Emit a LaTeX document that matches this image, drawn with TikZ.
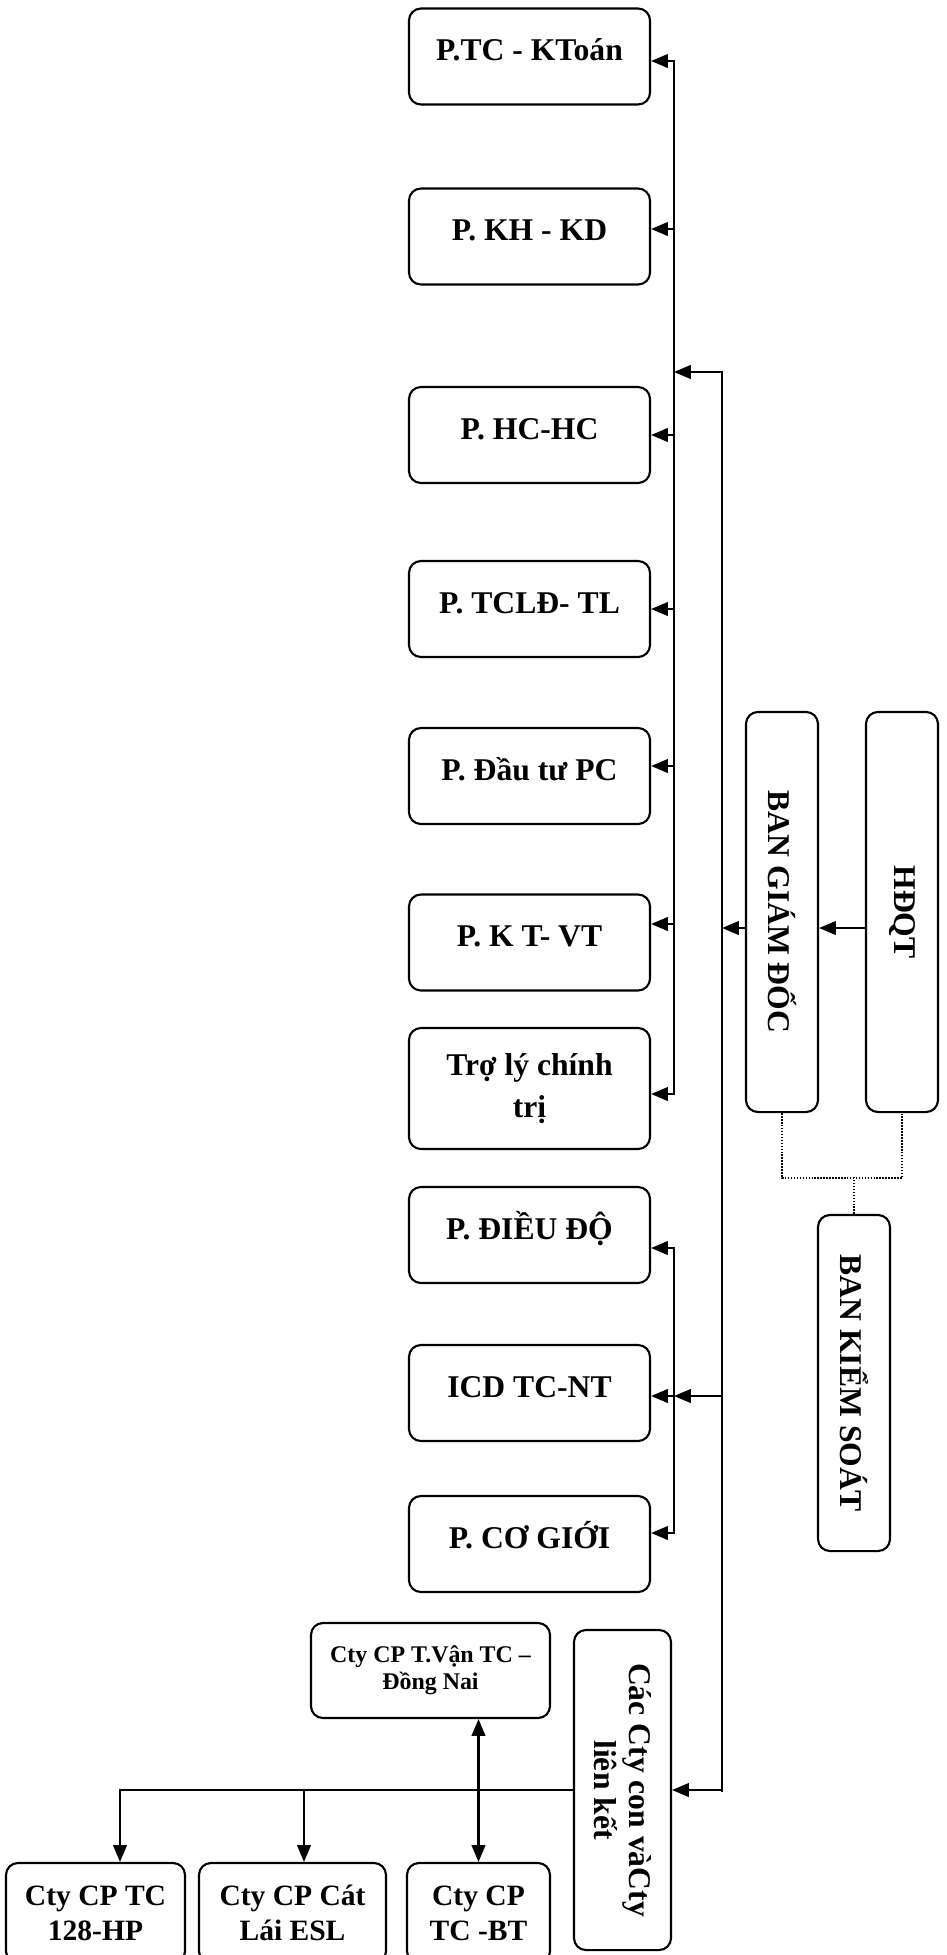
\documentclass[tikz,border=0pt]{standalone}
\usepackage{fontspec}
\setmainfont{Liberation Serif}
\usetikzlibrary{arrows.meta}
\tikzset{
  unitbox/.style={draw,rounded corners=0.3cm,line width=1.5pt,inner sep=0pt,
    minimum width=6.025cm,minimum height=2.4cm,
    font=\bfseries\fontsize{22.5}{25}\selectfont},
  onerow/.style={text height=0.55cm,text depth=0.35cm},
  tworow/.style={align=center},
  tallbox/.style={unitbox,rotate=-90,minimum height=1.8cm},
  firmbox/.style={unitbox,tworow,minimum height=2.5cm,
    font=\bfseries\fontsize{21}{25}\selectfont},
  link/.style={line width=1.5pt,line cap=rect},
  arrow/.style={link,-{Triangle[length=0.42cm,width=0.34cm]}},
  twoway/.style={link,>={Triangle[length=0.42cm,width=0.34cm]},<->},
  dotline/.style={densely dotted,line width=1.1pt}
}
\begin{document}
\begin{tikzpicture}[x=0.025cm,y=-0.025cm]
  \useasboundingbox (0,0) rectangle (947,1955);
  \clip (0,0) rectangle (947,1955);

  % board and management
  \node[tallbox,minimum width=10cm] (hdqt) at (902,912) {HĐQT};
  \node[tallbox,minimum width=10cm] (bgd) at (782,912) {BAN GIÁM ĐỐC};
  \node[tallbox,minimum width=8.4cm] (bks) at (854,1383) {BAN KIỂM SOÁT};

  % departments
  \foreach \n/\y/\t in {ptc/56.5/{P.TC - KToán},pkh/236.5/{P. KH - KD},
      phc/435/{P. HC-HC},ptcld/609/{P. TCLĐ- TL},pdt/776/{P. Đầu tư PC},
      pkt/942.5/{P. K T- VT},pdd/1235/{P. ĐIỀU ĐỘ},icd/1393/{ICD TC-NT},
      pcg/1544/{P. CƠ GIỚI}}
    \node[unitbox,onerow] (\n) at (529.5,\y) {\t};
  \node[unitbox,tworow,minimum height=3.025cm,
    font=\bfseries\fontsize{22.5}{30}\selectfont] (trl) at (529.5,1088.5)
    {Trợ lý chính\\trị};

  % companies
  \node[tallbox,tworow,minimum width=8cm,minimum height=2.425cm] (cac)
    at (622.5,1790) {Các Cty con vàCty\\liên kết};
  \node[unitbox,tworow,minimum width=5.975cm,minimum height=2.375cm,
    font=\bfseries\fontsize{17}{19}\selectfont] (tvan) at (430.5,1670.5)
    {Cty CP T.Vận TC –\\Đồng Nai};
  \node[firmbox,minimum width=4.475cm] (c128) at (95.5,1913) {Cty CP TC\\128-HP};
  \node[firmbox,minimum width=4.675cm] (cesl) at (292.5,1913) {Cty CP Cát\\Lái ESL};
  \node[firmbox,minimum width=3.575cm] (cbt) at (478.5,1913) {Cty CP\\TC -BT};

  % buses
  \coordinate (busL) at (674,0);
  \coordinate (busM) at (722,0);
  \draw[link] (674,61) -- (674,1094);
  \draw[link] (674,1248) -- (674,1533);
  \draw[link] (722,372) -- (722,1791);
  \foreach \n/\y in {ptc/61,pkh/229,phc/435,ptcld/609,pdt/766,pkt/924,
      trl/1094,pdd/1248,icd/1396,pcg/1533}
    \draw[arrow] (busL |- 0,\y) -- (\n.east |- 0,\y);
  \draw[arrow] (busM |- 0,372) -- (busL |- 0,372);
  \draw[arrow] (busM |- 0,1396) -- (busL |- 0,1396);
  \draw[arrow] (busM |- 0,1790) -- (cac.north);
  \draw[arrow] (hdqt.south |- 0,928) -- (bgd.north |- 0,928);
  \draw[arrow] (bgd.south |- 0,928) -- (busM |- 0,928);

  % control board
  \draw[dotline] (bgd.east) -- ++(0,65) -| (hdqt.east);
  \draw[dotline] (bks.west) -- ++(0,-38);

  % subsidiaries
  \draw[link] (cac.south) -- (120,1790);
  \draw[arrow] (120,1790) -- (c128.north -| 120,0);
  \draw[arrow] (304,1790) -- (cesl.north -| 304,0);
  \draw[twoway] (tvan.south -| cbt.north) -- (cbt.north);
\end{tikzpicture}
\end{document}
